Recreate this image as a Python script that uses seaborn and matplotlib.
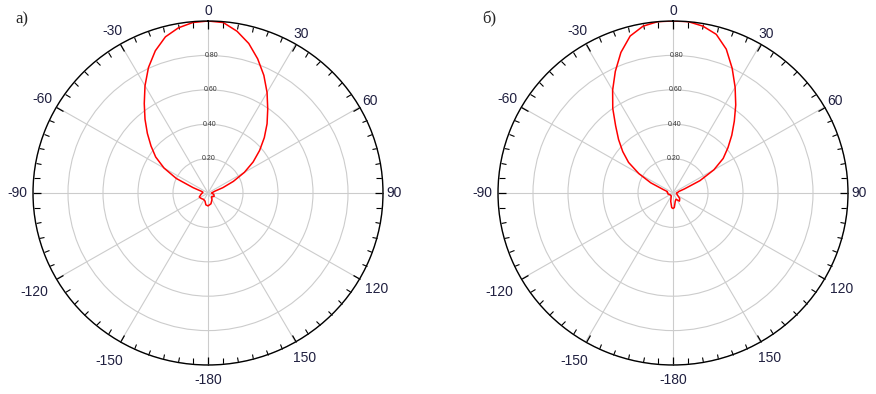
import numpy as np
import pandas as pd
import matplotlib
matplotlib.use("Agg")
import matplotlib.pyplot as plt
import seaborn as sns

# angles in degrees (clockwise from top), normalised gain
angles_a = [0, 5, 10, 15, 20, 25, 30, 35, 40, 45, 50, 55, 60, 65, 70, 75, 80,
            90, 105, 120, 135, 150, 165, 180, 190, 200, 215, 230, 245, 260, 275, 280,
            285, 290, 295, 300, 305, 310, 315, 320, 325, 330, 335, 340, 345, 350, 355, 360]
gain_a = [1.00, 0.995, 0.955, 0.90, 0.83, 0.755, 0.675, 0.595, 0.525, 0.455, 0.385, 0.315, 0.24, 0.16, 0.09, 0.04, 0.03,
          0.02, 0.035, 0.04, 0.03, 0.045, 0.065, 0.075, 0.07, 0.05, 0.045, 0.05, 0.055, 0.04, 0.03, 0.03,
          0.04, 0.09, 0.20, 0.29, 0.365, 0.425, 0.49, 0.56, 0.635, 0.72, 0.805, 0.88, 0.94, 0.975, 0.995, 1.00]

angles_b = [0, 5, 10, 15, 20, 25, 30, 35, 40, 45, 50, 55, 60, 65, 70, 75, 80,
            90, 110, 130, 142, 155, 165, 175, 180, 185, 195, 210, 240, 260, 275, 280,
            285, 290, 295, 300, 305, 310, 315, 320, 325, 330, 335, 340, 345, 350, 355, 360]
gain_b = [1.00, 1.00, 0.985, 0.955, 0.89, 0.80, 0.71, 0.625, 0.545, 0.475, 0.41, 0.35, 0.27, 0.17, 0.07, 0.035, 0.03,
          0.02, 0.025, 0.05, 0.06, 0.04, 0.05, 0.085, 0.09, 0.085, 0.05, 0.02, 0.02, 0.03, 0.03, 0.035,
          0.035, 0.06, 0.14, 0.225, 0.31, 0.375, 0.44, 0.51, 0.60, 0.69, 0.78, 0.87, 0.945, 0.985, 1.00, 1.00]

panel_labels = ["а)", "б)"]
tick_angles = [0, 30, 60, 90, 120, 150, 180, 210, 240, 270, 300, 330]
tick_labels = ["0", "30", "60", "90", "120", "150", "-180", "-150", "-120", "-90", "-60", "-30"]
ring_values = [0.2, 0.4, 0.6, 0.8]

# extra label distance (points) so the lower labels sit further out like the original
label_pads = [0, 1, 1.5, 1, 7, 6, 4, 8.5, 11.5, 4.5, 5, 4]

sns.set_style("white")
plt.rcParams['font.family'] = ['Liberation Sans', 'DejaVu Sans']

fig = plt.figure(figsize=(8.76, 3.94), dpi=100)

# the original is slightly squashed vertically
boxes = [[33 / 876, 29 / 394, 350 / 876, 344 / 394],
         [498 / 876, 29 / 394, 350 / 876, 344 / 394]]
label_pos = [(15 / 876, 1 - 19 / 394), (482 / 876, 1 - 19 / 394)]

for box, ang, gain, lab, lpos in zip(boxes, [angles_a, angles_b], [gain_a, gain_b],
                                     panel_labels, label_pos):
    ax = fig.add_axes(box, projection="polar")
    ax.set_aspect("auto")
    ax.set_theta_zero_location("N")
    ax.set_theta_direction(-1)

    df = pd.DataFrame({"theta": np.deg2rad(ang), "r": gain})
    sns.lineplot(data=df, x="theta", y="r", ax=ax, sort=False, estimator=None,
                 color="red", linewidth=1.1)

    ax.set_ylim(0, 1)
    ax.set_yticks([0.2, 0.4, 0.6, 0.8, 1.0])
    ax.set_yticklabels([])
    ax.set_xticks(np.deg2rad(tick_angles))
    ax.set_xticklabels(tick_labels, fontsize=10, color="#202040")
    ax.set_xticks(np.deg2rad(np.arange(0, 360, 5)), minor=True)
    # outer ring ticks only, pointing into the plot
    ax.tick_params(axis="x", which="both", bottom=False, top=True)
    ax.tick_params(axis="x", which="major", direction="in", length=6, width=0.9,
                   color="black", pad=0)
    ax.tick_params(axis="x", which="minor", direction="in", length=4, width=0.8,
                   color="black")
    for tick, p in zip(ax.xaxis.get_major_ticks(), label_pads):
        tick.set_pad(p)
    ax.grid(True, which="major", color="#cccccc", linewidth=0.8)
    ax.spines["polar"].set_color("black")
    ax.spines["polar"].set_linewidth(1.0)
    ax.set_xlabel("")
    ax.set_ylabel("")

    for rv in ring_values:
        ax.text(np.deg2rad(1.5), rv, f"{rv:.2f}", fontsize=5, ha="center", va="center",
                color="#333333")

    fig.text(lpos[0], lpos[1], lab, fontsize=12, family="Liberation Serif",
             ha="left", va="center")

fig.savefig("out.png", dpi=100)
